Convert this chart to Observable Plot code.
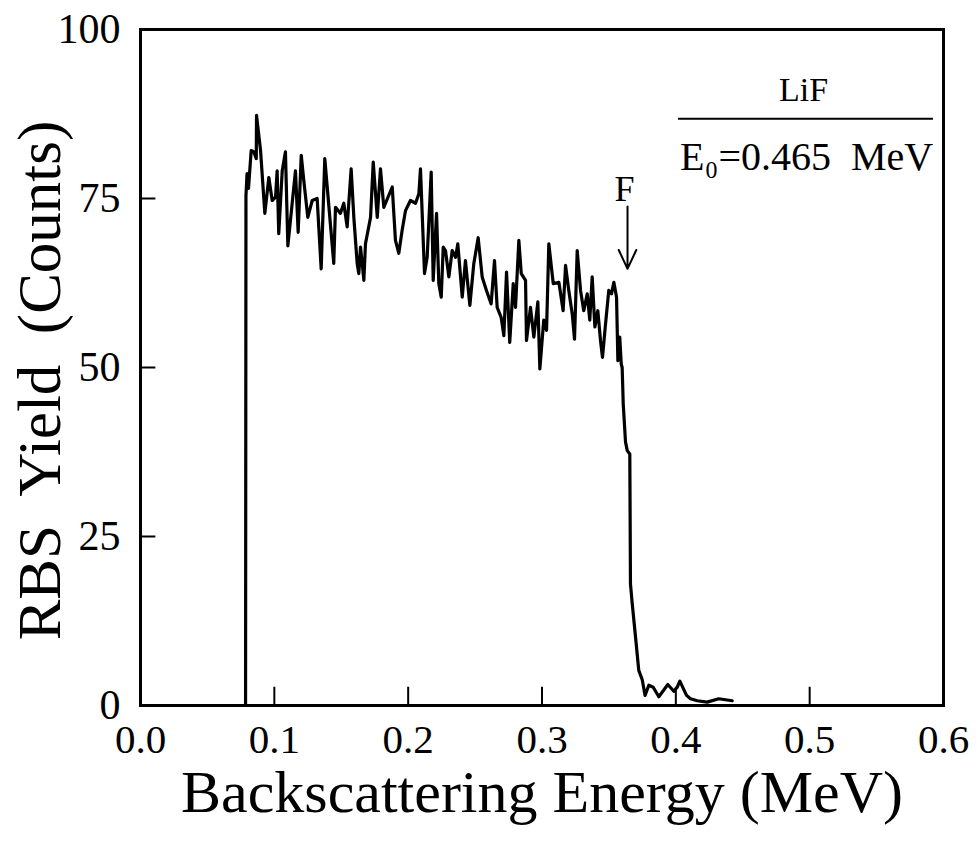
<!DOCTYPE html>
<html><head><meta charset="utf-8">
<script src="https://cdn.jsdelivr.net/npm/d3@7"></script>
<script src="https://cdn.jsdelivr.net/npm/@observablehq/plot@0.6"></script>
<style>body{margin:0;background:#fff} svg{display:block}</style>
</head><body><div id="chart"></div>
<script>
// Backscattering energy (MeV)
const energy = [
0.0785,0.0788,0.0796,0.0807,0.0827,0.0847,0.0865,0.0867,0.0897,0.0929,
0.0959,0.0984,0.1009,0.1021,0.1033,0.1059,0.1083,0.1101,0.1158,0.1178,
0.1201,0.1220,0.1250,0.1283,0.1320,0.1332,0.1350,0.1377,0.1444,0.1457,
0.1494,0.1519,0.1544,0.1574,0.1594,0.1619,0.1631,0.1644,0.1669,0.1681,
0.1719,0.1739,0.1769,0.1793,0.1818,0.1881,0.1905,0.1930,0.1955,0.1980,
0.2017,0.2055,0.2080,0.2092,0.2122,0.2142,0.2172,0.2187,0.2212,0.2229,
0.2247,0.2262,0.2279,0.2304,0.2329,0.2354,0.2371,0.2404,0.2428,0.2461,
0.2490,0.2523,0.2553,0.2585,0.2620,0.2645,0.2665,0.2695,0.2715,0.2735,
0.2759,0.2785,0.2802,0.2827,0.2845,0.2877,0.2884,0.2914,0.2939,0.2969,
0.2984,0.3013,0.3034,0.3051,0.3084,0.3126,0.3158,0.3176,0.3200,0.3226,
0.3243,0.3263,0.3288,0.3312,0.3338,0.3357,0.3375,0.3395,0.3417,0.3437,
0.3452,0.3475,0.3499,0.3519,0.3537,0.3557,0.3567,0.3581,0.3592,0.3599,
0.3607,0.3624,0.3637,0.3656,0.3658,0.3661,0.3674,0.3699,0.3723,0.3749,
0.3770,0.3798,0.3831,0.3873,0.3940,0.3985,0.4010,0.4030,0.4080,0.4110,
0.4160,0.4234,0.4321,0.4421
];
// RBS yield (counts)
const counts = [
0,75.4,78.7,76.5,82.1,81.9,80.9,87.3,82.1,72.8,
78.1,74.7,75.2,79.1,69.8,79.1,81.9,68.0,79.1,70.0,
81.4,77.7,72.2,74.7,75.0,70.8,64.6,80.9,65.4,73.7,
72.8,74.3,70.8,79.4,72.2,65.4,63.9,67.8,62.9,68.3,
72.2,80.4,72.2,79.4,73.7,76.7,68.8,66.9,70.3,73.2,
74.7,74.3,75.7,79.4,63.9,66.3,78.9,62.9,72.8,62.4,
60.4,67.8,67.3,63.4,67.3,66.3,68.3,60.4,65.8,59.2,
65.3,69.2,63.4,61.4,59.4,65.8,58.9,57.4,54.7,64.1,
53.7,62.4,58.9,68.8,63.9,62.9,54.0,58.9,54.5,59.7,
49.8,57.0,55.5,68.3,62.4,62.6,58.4,65.1,61.4,57.9,
54.2,67.3,61.4,58.4,60.9,57.0,63.4,56.0,58.4,54.0,
51.5,56.5,61.4,60.9,62.6,60.4,51.0,54.5,50.5,50.0,
44.6,39.0,37.7,37.2,29.8,18.0,15.1,10.1,5.2,3.8,
1.5,3.0,2.7,1.3,3.1,2.1,2.7,3.6,1.5,1.0,
0.7,0.5,1.0,0.7
];
const xTicks = [0.0, 0.1, 0.2, 0.3, 0.4, 0.5, 0.6];
const yTicks = [0, 25, 50, 75, 100];
const xTitle = "Backscattering Energy (MeV)";
const yTitle = "RBS  Yield  (Counts)";
const sampleLabel = "LiF";
const beamLabel = "E\u2080=0.465  MeV";
const edgeLabel = "F";
// annotation anchors (data units)
const sampleAt = [0.4954, 91.0];
const ruleSpan = [0.402, 0.5925, 86.8];
const beamAt = [0.4977, 81.1];
const edgeAt = [0.3617, 76.4];
const arrowSpan = [0.3639, 73.8, 64.6];

const data = energy.map((e, i) => ({e, c: counts[i]}));
const font = "'Liberation Serif', 'Times New Roman', serif";

const chart = Plot.plot({
  width: 976, height: 842,
  marginLeft: 140, marginRight: 33, marginTop: 29, marginBottom: 137,
  style: {fontFamily: font, background: "#fff", color: "#000", overflow: "visible"},
  x: {domain: [0, 0.6]},
  y: {domain: [0, 100]},
  marks: [
    Plot.line(data, {x: "e", y: "c", stroke: "#000", strokeWidth: 3.2, strokeLinejoin: "round"}),
    Plot.ruleX(xTicks.slice(1, -1), {x: d => d, y1: 0, y2: 2.7, stroke: "#000", strokeWidth: 2}),
    Plot.ruleY(yTicks.slice(1, -1), {y: d => d, x1: 0, x2: 0.0115, stroke: "#000", strokeWidth: 2}),
    Plot.frame({stroke: "#000", strokeWidth: 3}),
    Plot.axisX(xTicks, {tickSize: 0, tickPadding: 18, tickFormat: d3.format(".1f"), fontSize: 41, label: null}),
    Plot.axisY(yTicks, {tickSize: 0, tickPadding: 20, tickFormat: d3.format("d"), fontSize: 42, label: null}),
    Plot.text([xTitle], {frameAnchor: "bottom", dy: 106, fontSize: 60, text: d => d}),
    Plot.text([yTitle], {frameAnchor: "left", textAnchor: "middle", rotate: -90, dx: -100, dy: 13, fontSize: 61, text: d => d}),
    Plot.text([sampleLabel], {x: () => sampleAt[0], y: () => sampleAt[1], text: d => d, fontSize: 34}),
    Plot.ruleY([ruleSpan[2]], {y: d => d, x1: ruleSpan[0], x2: ruleSpan[1], stroke: "#000", strokeWidth: 2}),
    Plot.text([beamLabel], {x: () => beamAt[0], y: () => beamAt[1], text: d => d, fontSize: 40}),
    Plot.text([edgeLabel], {x: () => edgeAt[0], y: () => edgeAt[1], text: d => d, fontSize: 36}),
    Plot.arrow([arrowSpan], {x1: d => d[0], x2: d => d[0], y1: d => d[1], y2: d => d[2], stroke: "#000", strokeWidth: 2, headLength: 16, headAngle: 50})
  ]
});
document.getElementById("chart").append(chart);
</script>
</body></html>
